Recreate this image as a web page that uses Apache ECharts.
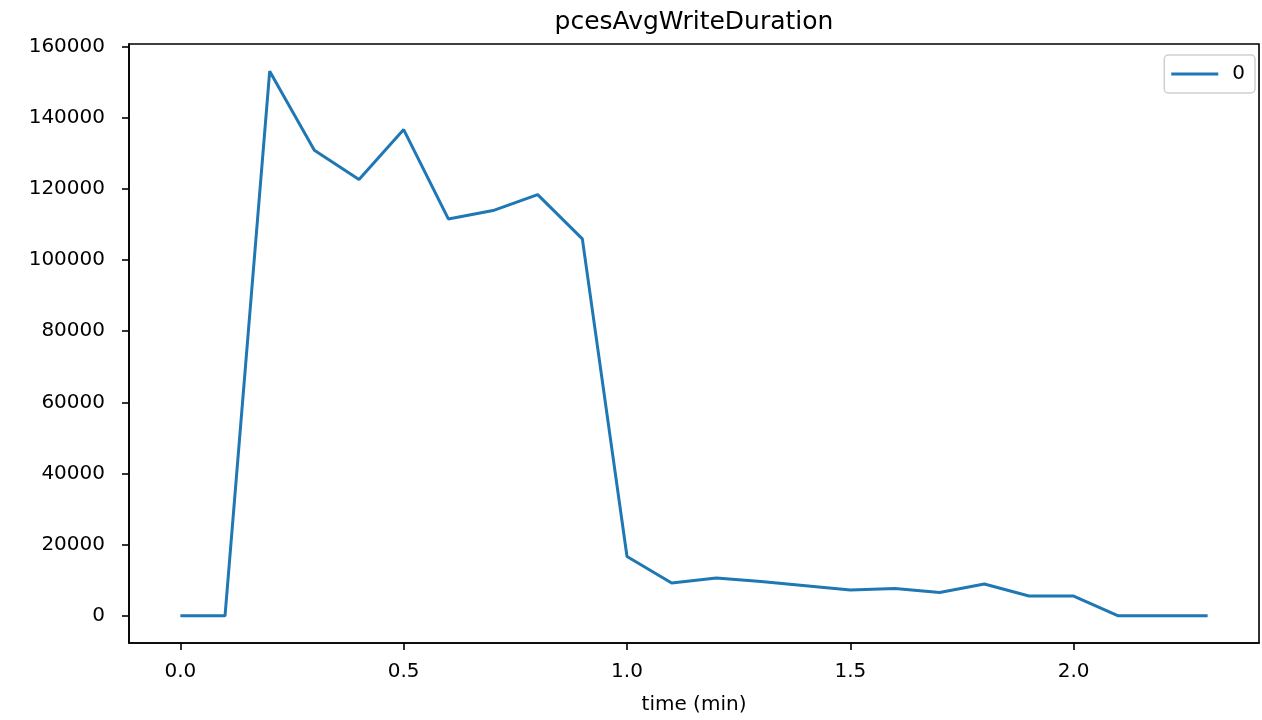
<!DOCTYPE html>
<html>
<head>
<meta charset="utf-8">
<script src="https://cdn.jsdelivr.net/npm/echarts@6/dist/echarts.min.js"></script>
<style>html,body{margin:0;padding:0;background:#fff}#c{width:1262px;height:720px}</style>
</head>
<body>
<div id="c"></div>
<script>
const times = [0.0,0.1,0.2,0.3,0.4,0.5,0.6,0.7,0.8,0.9,1.0,1.1,1.2,1.3,1.4,1.5,1.6,1.7,1.8,1.9,2.0,2.1,2.2,2.3];
const values = [0,0,153060,130840,122600,136660,111550,113890,118390,105930,16680,9190,10600,9650,8440,7230,7680,6550,8910,5540,5540,0,0,0];
const xTicks = [0,0.5,1.0,1.5,2.0];
const yTicks = [0,20000,40000,60000,80000,100000,120000,140000,160000];
const seriesName = '0';
const titleText = 'pcesAvgWriteDuration';
const xLabel = 'time (min)';

const xMinD = Math.min(...times), xMaxD = Math.max(...times);
const yMinD = Math.min(...values), yMaxD = Math.max(...values);
const xm = (xMaxD - xMinD) * 0.05, ym = (yMaxD - yMinD) * 0.05;
const font = 'DejaVu Sans';
const chart = echarts.init(document.getElementById('c'), null, {renderer:'canvas'});
chart.setOption({
  backgroundColor:'#fff',
  animation:false,
  graphic:[{type:'text',x:694,y:22,style:{text:titleText,fontFamily:font,fontSize:25,fill:'#000',textAlign:'center',textVerticalAlign:'middle'}}],
  legend:{data:[seriesName],right:7,top:55,orient:'vertical',icon:'rect',itemWidth:47,itemHeight:3,
    padding:[9,10,9,7],borderColor:'#d0d0d0',borderWidth:1.5,borderRadius:4,
    textStyle:{fontFamily:font,fontSize:20,color:'#000',padding:[0,0,0,9]}},
  grid:{left:129,right:3,top:44,bottom:77,show:true,borderColor:'#000',borderWidth:1.6,backgroundColor:'transparent'},
  xAxis:{type:'value',min:xMinD-xm,max:xMaxD+xm,
    name:xLabel,nameLocation:'middle',nameGap:52,nameTextStyle:{fontFamily:font,fontSize:20,color:'#000'},
    axisLine:{show:true,onZero:false,lineStyle:{color:'#000',width:1.6}},
    axisTick:{show:true,length:7,lineStyle:{color:'#000',width:1.6},customValues:xTicks},
    axisLabel:{fontFamily:font,fontSize:20,color:'#000',margin:19,customValues:xTicks,formatter:v=>Number(v).toFixed(1)},
    splitLine:{show:false}},
  yAxis:{type:'value',min:yMinD-ym,max:yMaxD+ym,
    axisLine:{show:true,onZero:false,lineStyle:{color:'#000',width:1.6}},
    axisTick:{show:true,length:7,lineStyle:{color:'#000',width:1.6},customValues:yTicks},
    axisLabel:{fontFamily:font,fontSize:20,color:'#000',margin:24,customValues:yTicks,formatter:v=>String(Math.round(v))},
    splitLine:{show:false}},
  series:[{name:seriesName,type:'line',data:times.map((t,i)=>[t,values[i]]),symbol:'none',
    lineStyle:{color:'#1f77b4',width:3},itemStyle:{color:'#1f77b4'}}]
});
</script>
</body>
</html>
